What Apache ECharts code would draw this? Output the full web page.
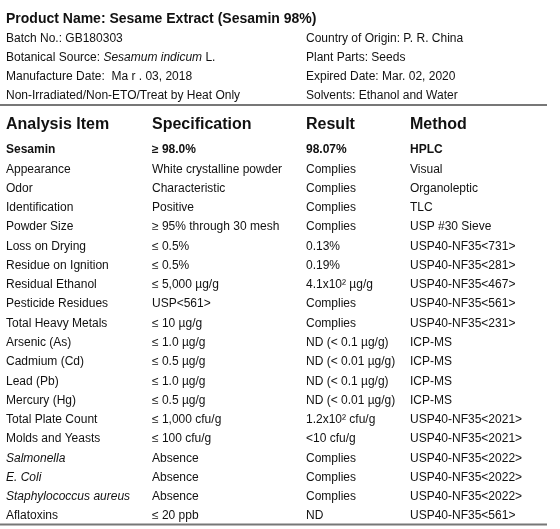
<!DOCTYPE html>
<html>
<head>
<meta charset="utf-8">
<script src="https://cdn.jsdelivr.net/npm/echarts@6/dist/echarts.min.js"></script>
<style>html,body{margin:0;padding:0;background:#fff}#c{width:560px;height:529px}</style>
</head>
<body>
<div id="c"></div>
<script>
// ---- data ----
const title = 'Product Name: Sesame Extract (Sesamin 98%)';
const infoLeft = ['Batch No.: GB180303', 'Botanical Source: {i|Sesamum indicum} L.', 'Manufacture Date:  Ma r . 03, 2018', 'Non-Irradiated/Non-ETO/Treat by Heat Only'];
const infoRight = ['Country of Origin: P. R. China', 'Plant Parts: Seeds', 'Expired Date: Mar. 02, 2020', 'Solvents: Ethanol and Water'];
const headers = ['Analysis Item', 'Specification', 'Result', 'Method'];
const items = ['Sesamin', 'Appearance', 'Odor', 'Identification', 'Powder Size', 'Loss on Drying', 'Residue on Ignition', 'Residual Ethanol', 'Pesticide Residues', 'Total Heavy Metals', 'Arsenic (As)', 'Cadmium (Cd)', 'Lead (Pb)', 'Mercury (Hg)', 'Total Plate Count', 'Molds and Yeasts', 'Salmonella', 'E. Coli', 'Staphylococcus aureus', 'Aflatoxins'];
const specs = ['≥ 98.0%', 'White crystalline powder', 'Characteristic', 'Positive', '≥ 95% through 30 mesh', '≤ 0.5%', '≤ 0.5%', '≤ 5,000 µg/g', 'USP<561>', '≤ 10 µg/g', '≤ 1.0 µg/g', '≤ 0.5 µg/g', '≤ 1.0 µg/g', '≤ 0.5 µg/g', '≤ 1,000 cfu/g', '≤ 100 cfu/g', 'Absence', 'Absence', 'Absence', '≤ 20 ppb'];
const results = ['98.07%', 'Complies', 'Complies', 'Complies', 'Complies', '0.13%', '0.19%', '4.1x10² µg/g', 'Complies', 'Complies', 'ND (< 0.1 µg/g)', 'ND (< 0.01 µg/g)', 'ND (< 0.1 µg/g)', 'ND (< 0.01 µg/g)', '1.2x10² cfu/g', '<10 cfu/g', 'Complies', 'Complies', 'Complies', 'ND'];
const methods = ['HPLC', 'Visual', 'Organoleptic', 'TLC', 'USP #30 Sieve', 'USP40-NF35<731>', 'USP40-NF35<281>', 'USP40-NF35<467>', 'USP40-NF35<561>', 'USP40-NF35<231>', 'ICP-MS', 'ICP-MS', 'ICP-MS', 'ICP-MS', 'USP40-NF35<2021>', 'USP40-NF35<2021>', 'USP40-NF35<2022>', 'USP40-NF35<2022>', 'USP40-NF35<2022>', 'USP40-NF35<561>'];
const boldRows = ['Sesamin'];
const italicItems = ['Salmonella', 'E. Coli', 'Staphylococcus aureus'];

// ---- layout ----
const FONT = '"Liberation Sans", Arial, Helvetica, sans-serif';
const COLOR = '#111';
const COL_X = [6, 152, 306, 410];
const columns = [items, specs, results, methods];

const rich = {
  b: { fontWeight: 'bold', fontFamily: FONT, fontSize: 12, color: COLOR },
  i: { fontStyle: 'italic', fontFamily: FONT, fontSize: 12, color: COLOR }
};

function cellText(colIdx, rowIdx) {
  const t = columns[colIdx][rowIdx];
  const it = items[rowIdx];
  if (boldRows.includes(it)) return '{b|' + t + '}';
  if (colIdx === 0 && italicItems.includes(it)) return '{i|' + t + '}';
  return t;
}

const series = columns.map((col, c) => ({
  type: 'scatter',
  symbolSize: 0,
  silent: true,
  itemStyle: { opacity: 1 },
  data: col.map((v, r) => ({ value: [COL_X[c], items[r]], c: c, r: r })),
  label: {
    show: true,
    position: 'right',
    distance: 0,
    fontFamily: FONT,
    fontSize: 12,
    color: COLOR,
    opacity: 1,
    formatter: p => cellText(p.data.c, p.data.r),
    rich: rich
  }
}));

const graphics = [];
graphics.push({ type: 'text', left: 6, top: 12, style: { text: title, font: 'bold 14px ' + FONT, fill: COLOR } });
infoLeft.forEach((t, k) => {
  graphics.push({ type: 'text', left: 6, top: 33 + k * 19, style: { text: t, font: '12px ' + FONT, fill: COLOR, rich: { i: { fontStyle: 'italic', fontSize: 12, fontFamily: FONT, fill: COLOR } } } });
});
infoRight.forEach((t, k) => {
  graphics.push({ type: 'text', left: 306, top: 33 + k * 19, style: { text: t, font: '12px ' + FONT, fill: COLOR } });
});
headers.forEach((h, k) => {
  graphics.push({ type: 'text', left: COL_X[k], top: 117, style: { text: h, font: 'bold 16px ' + FONT, fill: COLOR } });
});
graphics.push({ type: 'line', shape: { x1: 0, y1: 105, x2: 547, y2: 105 }, style: { stroke: '#777', lineWidth: 2 } });
graphics.push({ type: 'line', shape: { x1: 0, y1: 524.5, x2: 547, y2: 524.5 }, style: { stroke: '#777', lineWidth: 2 } });

const chart = echarts.init(document.getElementById('c'), null, { renderer: 'canvas' });
chart.setOption({
  animation: false,
  backgroundColor: '#fff',
  grid: { left: 0, right: 0, top: 140.4, height: 385.3, containLabel: false },
  xAxis: { type: 'value', min: 0, max: 560, show: false },
  yAxis: { type: 'category', data: items, inverse: true, show: false },
  series: series,
  graphic: graphics
});
</script>
</body>
</html>
